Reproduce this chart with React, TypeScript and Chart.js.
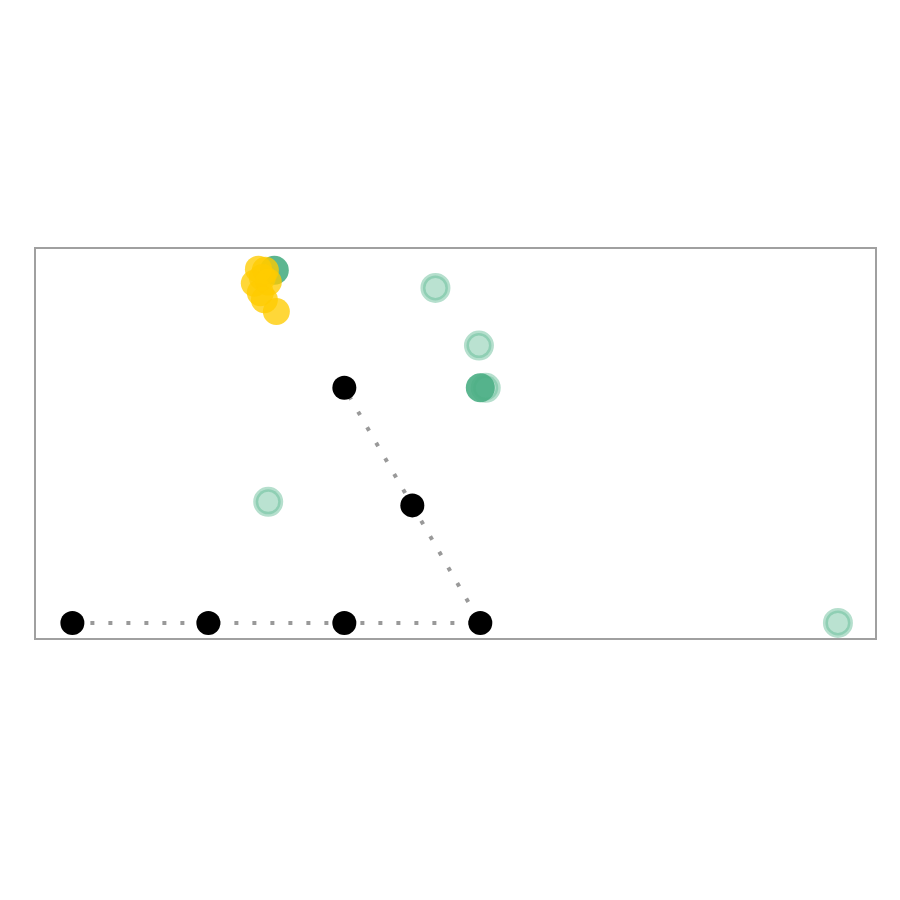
import React, { useEffect, useRef } from "react";
import { Chart, registerables } from "chart.js";

Chart.register(...registerables);

// Path (black points joined by a dotted line)
const pathX = [1, 2, 3, 4, 3.5, 3];
const pathY = [0, 0, 0, 0, 1, 2];

// Light green ringed points
const lightX = [3.67, 3.99, 2.44, 6.63, 4.04];
const lightY = [2.85, 2.36, 1.03, 0, 2.0];

// Solid green points
const solidX = [4.0, 2.485];
const solidY = [2.0, 3.0];

// Yellow cluster
const yellowX = [2.368, 2.419, 2.397, 2.338, 2.441, 2.382, 2.412, 2.5];
const yellowY = [3.01, 3.0, 2.94, 2.89, 2.9, 2.81, 2.75, 2.65];

const xMin = 0.725;
const xMax = 6.91;
const yMin = -0.137;
const yMax = 3.19;

const zip = (xs: number[], ys: number[]) => xs.map((x, i) => ({ x, y: ys[i] }));

const framePlugin = {
  id: "frame",
  afterDraw(chart: any) {
    const { ctx, chartArea } = chart;
    ctx.save();
    ctx.strokeStyle = "#a0a0a0";
    ctx.lineWidth = 2;
    ctx.strokeRect(chartArea.left, chartArea.top, chartArea.right - chartArea.left, chartArea.bottom - chartArea.top);
    ctx.restore();
  },
};

export default function App() {
  const ref = useRef<HTMLCanvasElement | null>(null);
  useEffect(() => {
    if (!ref.current) return;
    const chart = new Chart(ref.current, {
      type: "scatter",
      data: {
        datasets: [
          {
            type: "line",
            data: zip(pathX, pathY),
            borderColor: "#999999",
            borderWidth: 4,
            borderDash: [4, 14],
            pointRadius: 12,
            pointBackgroundColor: "#000000",
            pointBorderWidth: 0,
            fill: false,
            tension: 0,
            order: 1,
          },
          {
            data: zip(yellowX, yellowY),
            pointRadius: 13.5,
            backgroundColor: "rgba(255,204,0,0.78)",
            borderColor: "rgba(255,204,0,0.0)",
            pointBorderWidth: 0,
            order: 2,
          },
          {
            data: zip(solidX, solidY),
            pointRadius: 14.5,
            backgroundColor: "rgba(74,174,132,0.9)",
            pointBorderWidth: 0,
            order: 3,
          },
          {
            data: zip(lightX, lightY),
            pointRadius: 12.5,
            backgroundColor: "rgba(90,185,145,0.42)",
            borderColor: "rgba(90,185,145,0.45)",
            pointBorderWidth: 5,
            order: 4,
          },
        ],
      },
      options: {
        animation: false,
        responsive: false,
        maintainAspectRatio: false,
        layout: { padding: { left: 35, right: 24, top: 248, bottom: 261 } },
        plugins: { legend: { display: false }, tooltip: { enabled: false } },
        scales: {
          x: { type: "linear", display: false, min: xMin, max: xMax },
          y: { type: "linear", display: false, min: yMin, max: yMax },
        },
      },
      plugins: [framePlugin],
    });
    return () => chart.destroy();
  }, []);
  return (
    <div style={{ position: "fixed", left: 0, top: 0, width: 900, height: 900, background: "#fff" }}>
      <canvas ref={ref} width={900} height={900} style={{ width: 900, height: 900 }} />
    </div>
  );
}
